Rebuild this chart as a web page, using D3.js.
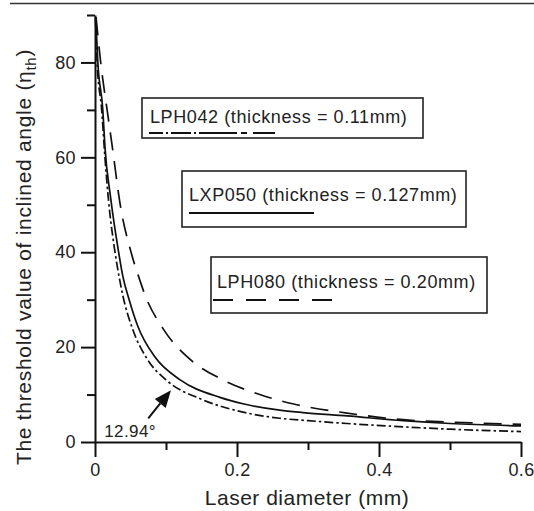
<!DOCTYPE html>
<html>
<head>
<meta charset="utf-8">
<script src="https://cdn.jsdelivr.net/npm/d3@7"></script>
<style>
  html, body { margin: 0; padding: 0; background: #fff; }
  svg text { font-family: "Liberation Sans", Arial, Helvetica, sans-serif; fill: #222; }
</style>
</head>
<body>
<div id="chart"></div>
<script>
// threshold angle vs laser diameter
var diamLPH042 = [0.0005, 0.003, 0.0094, 0.014, 0.019, 0.028, 0.035, 0.039, 0.053, 0.073, 0.10, 0.15, 0.20, 0.26, 0.30, 0.355, 0.434, 0.50, 0.60];
var angLPH042  = [89.5,   80,    70,     60,    51,    40.2,  34,    31,    23.8,  17.6,  13.1, 9.0,  6.6,  5.0,  4.5,  3.9,   3.2,   2.7,  2.2];

var diamLXP050 = [0.001, 0.004, 0.011, 0.0141, 0.022, 0.0324, 0.0394, 0.0483, 0.0606, 0.0845, 0.12, 0.176, 0.21, 0.26, 0.293, 0.355, 0.434, 0.50, 0.60];
var angLXP050  = [89.5,  80,    70,    62,     51.5,  40.8,   34.8,   29.9,   24.3,   17.9,   13.1, 9.4,   8.0,  6.7,  6.2,   5.5,   4.5,   3.9,  3.4];

var diamLPH080 = [0.0015, 0.008, 0.018, 0.025, 0.035, 0.0517, 0.0634, 0.0704, 0.0958, 0.134, 0.176, 0.232, 0.28, 0.355, 0.434, 0.50, 0.60];
var angLPH080  = [89.5,   80,    69,    61.5,  50.5,  39.5,   34.0,   31.0,   23.9,   17.4,  13.4,  10.0,  8.0,  6.1,   4.7,   4.2,  3.7];

var seriesNames = ['LPH042 (thickness = 0.11mm)', 'LXP050 (thickness = 0.127mm)', 'LPH080 (thickness = 0.20mm)'];

var xMajor = [0, 0.2, 0.4, 0.6];
var xMinor = [0.1, 0.3, 0.5];
var yMajor = [0, 20, 40, 60, 80];
var yMinor = [10, 30, 50, 70, 90];

// annotation: arrow tail, arrow tip, label
var noteLabel = '12.94\u00b0';
var noteTail = [0.075, 5.0];
var noteTip = [0.107, 10.9];
var noteText = [0.013, 1.1];

var W = 534, H = 511;
var svg = d3.select('#chart').append('svg').attr('width', W).attr('height', H);

// thin rule at the very top of the page
svg.append('line').attr('x1', 10).attr('x2', W).attr('y1', 3.5).attr('y2', 3.5)
  .attr('stroke', '#333').attr('stroke-width', 1.5);

var x = d3.scaleLinear().domain([0, 0.6]).range([95, 521]);
var y = d3.scaleLinear().domain([0, 90]).range([442, 15]);

function styleAxis(g) {
  g.selectAll('path, line').attr('stroke', '#111').attr('stroke-width', 2);
  g.selectAll('text').attr('font-size', '18px').attr('fill', '#222').attr('letter-spacing', '0.4px');
}

// x axis
svg.append('g').attr('transform', 'translate(0,' + y(0) + ')')
  .call(d3.axisBottom(x).tickValues(xMajor).tickSize(15).tickSizeOuter(0).tickPadding(6)
    .tickFormat(function (d) { return d === 0 ? '0' : d3.format('.1f')(d); }))
  .call(styleAxis);
svg.append('g').attr('transform', 'translate(0,' + y(0) + ')')
  .call(d3.axisBottom(x).tickValues(xMinor).tickSize(8).tickSizeOuter(0).tickFormat(''))
  .call(styleAxis)
  .select('.domain').remove();

// y axis
svg.append('g').attr('transform', 'translate(' + x(0) + ',0)')
  .call(d3.axisLeft(y).tickValues(yMajor).tickSize(14).tickSizeOuter(0).tickPadding(5))
  .call(styleAxis);
svg.append('g').attr('transform', 'translate(' + x(0) + ',0)')
  .call(d3.axisLeft(y).tickValues(yMinor).tickSize(8).tickSizeOuter(0).tickFormat(''))
  .call(styleAxis)
  .select('.domain').remove();

// axis titles
svg.append('text').attr('x', 307).attr('y', 505).attr('text-anchor', 'middle')
  .attr('font-size', '21px').attr('letter-spacing', '0.5px').text('Laser diameter (mm)');

var yt = svg.append('text').attr('transform', 'translate(31,257) rotate(-90)')
  .attr('text-anchor', 'middle').attr('font-size', '21px').attr('letter-spacing', '0.7px');
yt.append('tspan').text('The threshold value of inclined angle (\u03b7');
yt.append('tspan').attr('font-size', '15px').attr('dy', 5).text('th');
yt.append('tspan').attr('dy', -5).text(')');

// curves
var line = d3.line()
  .x(function (d) { return x(d[0]); })
  .y(function (d) { return y(d[1]); })
  .curve(d3.curveMonotoneX);

var curves = [
  { xs: diamLPH042, ys: angLPH042, dash: '9,3,2.5,3' },
  { xs: diamLXP050, ys: angLXP050, dash: null },
  { xs: diamLPH080, ys: angLPH080, dash: '18,11' }
];

curves.forEach(function (c) {
  var pts = c.xs.map(function (v, i) { return [v, c.ys[i]]; });
  svg.append('path').datum(pts)
    .attr('d', line)
    .attr('fill', 'none')
    .attr('stroke', '#111')
    .attr('stroke-width', 1.7)
    .attr('stroke-dasharray', c.dash);
});

// legend boxes (each one separate, as in the figure)
var legendLayout = [
  { box: [142, 98, 423, 138], tx: 150, ty: 123, ly: 133, lx: [149, 278], dash: '14,3,2,3,20,3,2,3,38,4,6,6,22' },
  { box: [182, 171, 466, 227], tx: 189, ty: 201, ly: 213, lx: [189, 314], dash: null },
  { box: [211, 257, 487, 313], tx: 217, ty: 288, ly: 300, lx: [213, 334], dash: '20,13' }
];

legendLayout.forEach(function (L, i) {
  var g = svg.append('g');
  g.append('rect')
    .attr('x', L.box[0]).attr('y', L.box[1])
    .attr('width', L.box[2] - L.box[0]).attr('height', L.box[3] - L.box[1])
    .attr('fill', '#fff').attr('stroke', '#222').attr('stroke-width', 1.6);
  g.append('text').attr('x', L.tx).attr('y', L.ty).attr('font-size', '18px')
    .attr('letter-spacing', '0.6px').text(seriesNames[i]);
  g.append('line')
    .attr('x1', L.lx[0]).attr('x2', L.lx[1]).attr('y1', L.ly).attr('y2', L.ly)
    .attr('stroke', '#111').attr('stroke-width', 2)
    .attr('stroke-dasharray', L.dash);
});

// annotation arrow
var t0 = [x(noteTail[0]), y(noteTail[1])];
var t1 = [x(noteTip[0]), y(noteTip[1])];
var ang = Math.atan2(t1[1] - t0[1], t1[0] - t0[0]);
var headLen = 17, headHalf = 7;
var bx = t1[0] - headLen * Math.cos(ang), by = t1[1] - headLen * Math.sin(ang);
svg.append('line')
  .attr('x1', t0[0]).attr('y1', t0[1]).attr('x2', bx).attr('y2', by)
  .attr('stroke', '#111').attr('stroke-width', 2);
svg.append('path')
  .attr('d', 'M' + t1[0] + ',' + t1[1] +
    'L' + (bx + headHalf * Math.sin(ang)) + ',' + (by - headHalf * Math.cos(ang)) +
    'L' + (bx - headHalf * Math.sin(ang)) + ',' + (by + headHalf * Math.cos(ang)) + 'Z')
  .attr('fill', '#111');
svg.append('text').attr('x', x(noteText[0])).attr('y', y(noteText[1]))
  .attr('font-size', '17px').attr('letter-spacing', '0.4px').text(noteLabel);
</script>
</body>
</html>
